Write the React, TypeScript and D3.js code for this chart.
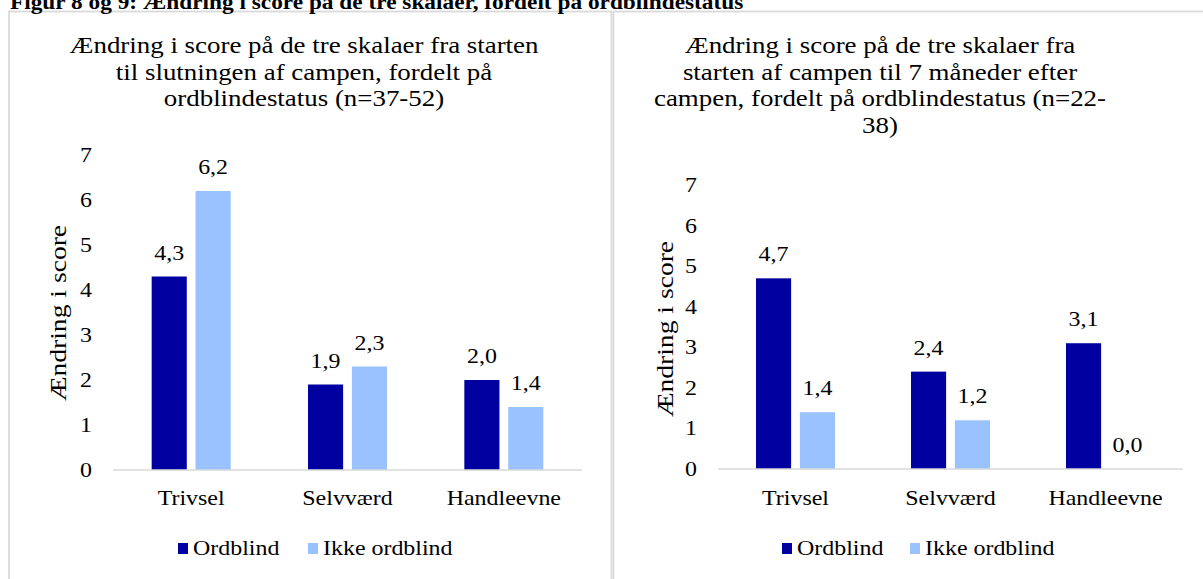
import React from "react";
import * as d3 from "d3";

// chart data
const header = "Figur 8 og 9: Ændring i score på de tre skalaer, fordelt på ordblindestatus";
const categories = ["Trivsel", "Selvværd", "Handleevne"];
const seriesNames = ["Ordblind", "Ikke ordblind"];
const seriesColors = ["#0000a0", "#99c2ff"];
const yTicks = [0, 1, 2, 3, 4, 5, 6, 7];
const yLabel = "Ændring i score";

const title1 = [
  "Ændring i score på de tre skalaer fra starten",
  "til slutningen af campen, fordelt på",
  "ordblindestatus (n=37-52)",
];
const campOrdblind = [4.3, 1.9, 2.0];
const campIkke = [6.2, 2.3, 1.4];

const title2 = [
  "Ændring i score på de tre skalaer fra",
  "starten af campen til 7 måneder efter",
  "campen, fordelt på ordblindestatus (n=22-",
  "38)",
];
const laterOrdblind = [4.7, 2.4, 3.1];
const laterIkke = [1.4, 1.2, 0.0];

const FONT = "'Liberation Serif', 'Times New Roman', serif";
const fmt = (v) => d3.format(".1f")(v).replace(".", ",");

// the source text is a bit wider than the font, so stretch it sideways
const T = ({ x, y, anchor = "start", size = 21, sx = 1.14, weight = "normal", children }) => (
  <text
    transform={`translate(${x},${y}) scale(${sx},1)`}
    textAnchor={anchor}
    fontSize={size}
    fontWeight={weight}
  >
    {children}
  </text>
);

const Panel = ({ left, width, titleLines, titleX, plotL, plotR, yTop, yBottom, values, ylabelX, ylabelY, legendX }) => {
  const x = d3.scaleBand().domain(categories).range([plotL, plotR]);
  const inner = d3.scaleBand().domain(seriesNames).range([0, 79]).paddingInner(0.2);
  const y = d3.scaleLinear().domain([0, 7]).range([yBottom, yTop]);
  const groupOff = (x.bandwidth() - 79) / 2;

  return (
    <g>
      <rect x={left} y={11.5} width={width} height={700} fill="#fff" stroke="#d9d9d9" strokeWidth={1.8} />
      {titleLines.map((t, i) => (
        <T key={i} x={titleX} y={53 + i * 26.7} anchor="middle" size={23} sx={1.17}>
          {t}
        </T>
      ))}
      {yTicks.map((t) => (
        <T key={t} x={plotL - 21} y={y(t) + 7} anchor="end">
          {t}
        </T>
      ))}
      <text
        transform={`translate(${ylabelX},${ylabelY}) rotate(-90) scale(1.2,1)`}
        textAnchor="middle"
        fontSize={23}
      >
        {yLabel}
      </text>
      {values.map((vals, s) =>
        vals.map((v, i) => {
          const bx = x(categories[i]) + groupOff + inner(seriesNames[s]);
          return (
            <g key={`${s}-${i}`}>
              <rect x={bx} y={y(v)} width={inner.bandwidth()} height={y(0) - y(v)} fill={seriesColors[s]} />
              <T x={bx + inner.bandwidth() / 2} y={y(v) - 17} anchor="middle">
                {fmt(v)}
              </T>
            </g>
          );
        })
      )}
      <line x1={plotL} x2={plotR} y1={y(0)} y2={y(0)} stroke="#d9d9d9" strokeWidth={1.5} />
      {categories.map((c) => (
        <T key={c} x={x(c) + x.bandwidth() / 2} y={505} anchor="middle">
          {c}
        </T>
      ))}
      {seriesNames.map((n, i) => (
        <g key={n}>
          <rect x={legendX[i]} y={543} width={10} height={11} fill={seriesColors[i]} />
          <T x={legendX[i] + 15} y={555}>
            {n}
          </T>
        </g>
      ))}
    </g>
  );
};

export default function App() {
  return (
    <svg
      width={1203}
      height={579}
      style={{ position: "absolute", left: 0, top: 0, fontFamily: FONT }}
    >
      <rect width={1203} height={579} fill="#fff" />
      <Panel
        left={9}
        width={602.5}
        titleLines={title1}
        titleX={304}
        plotL={113}
        plotR={582}
        yTop={155}
        yBottom={470}
        values={[campOrdblind, campIkke]}
        ylabelX={66}
        ylabelY={313}
        legendX={[178, 308]}
      />
      <Panel
        left={613.5}
        width={600}
        titleLines={title2}
        titleX={880}
        plotL={718}
        plotR={1183}
        yTop={185}
        yBottom={469}
        values={[laterOrdblind, laterIkke]}
        ylabelX={673}
        ylabelY={329}
        legendX={[782, 910]}
      />
      <T x={10} y={9} size={22} weight="bold" sx={1.06}>
        {header}
      </T>
    </svg>
  );
}
